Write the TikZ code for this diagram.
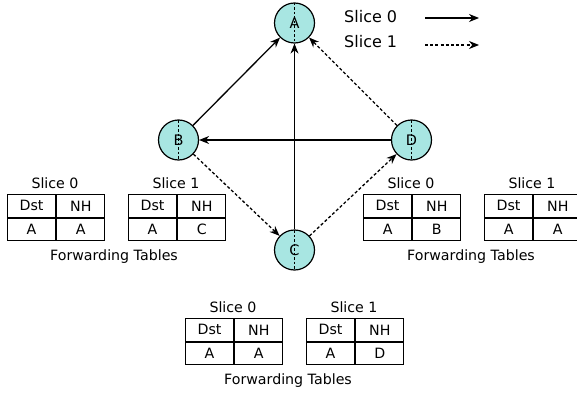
\documentclass[tikz,border=0pt]{standalone}
\usepackage{fontspec}
\setmainfont{DejaVu Sans}
\usetikzlibrary{arrows.meta}
\definecolor{nodefill}{RGB}{168,230,226}
\tikzset{
  router/.style={circle, draw=black, line width=1.2pt, fill=nodefill, minimum size=40pt, inner sep=0pt, font=\fontsize{14.5}{16}\selectfont,
    path picture={\draw[black, line width=0.9pt, dash pattern=on 2.5pt off 2pt] (path picture bounding box.north) -- (path picture bounding box.south);}},
  cell/.style={draw=black, line width=1.2pt, minimum width=48pt, minimum height=22.5pt, inner sep=0pt, font=\fontsize{14.2}{16}\selectfont},
  ttl/.style={font=\fontsize{14.2}{16}\selectfont, inner sep=0pt},
  lgd/.style={font=\fontsize{16}{18}\selectfont, inner sep=0pt, anchor=west},
  s0/.style={line width=1.3pt, -{Stealth[length=10pt,width=8pt]}},
  s1/.style={line width=1.3pt, dash pattern=on 3pt off 2.2pt, -{Stealth[length=10pt,width=8pt]}},
}
\newcommand{\ftable}[5]{% name, x-left, y-top, dst row value, nh value
  \node[cell, anchor=north west] (#1h1) at (#2,#3) {Dst};
  \node[cell, anchor=west] (#1h2) at (#1h1.east) {NH};
  \node[cell, anchor=north] (#1v1) at (#1h1.south) {#4};
  \node[cell, anchor=north] (#1v2) at (#1h2.south) {#5};
}
\begin{document}
\begin{tikzpicture}[x=1pt,y=-1pt]
\useasboundingbox (0,0) rectangle (577,393);
% routers
\node[router] (A) at (294.5,23) {A};
\node[router] (B) at (178.5,140) {B};
\node[router] (C) at (294.5,250) {C};
\node[router] (D) at (411.5,140) {D};
% edges
\draw[s0] (B) -- (A);
\draw[s0] (C) -- (A);
\draw[s0] (D) -- (B);
\draw[s1] (D) -- (A);
\draw[s1] (B) -- (C);
\draw[s1] (C) -- (D);
% legend
\node[lgd] (l0) at (344,17) {Slice 0};
\node[lgd] (l1) at (344,42) {Slice 1};
\coordinate (l0a) at (425,18);
\coordinate (l0b) at (479,18);
\coordinate (l1a) at (425,45);
\coordinate (l1b) at (479,45);
\draw[s0] (l0a) -- (l0b);
\draw[s1] (l1a) -- (l1b);
% left tables
\ftable{LA}{7}{194}{A}{A}
\ftable{LB}{128}{194}{A}{C}
\node[ttl] (tLA) at (55,183) {Slice 0};
\node[ttl] (tLB) at (176,183) {Slice 1};
\node[ttl] (fL) at (114,257) {Forwarding Tables};
% right tables
\ftable{RA}{363}{194}{A}{B}
\ftable{RB}{484}{194}{A}{A}
\node[ttl] (tRA) at (411,183) {Slice 0};
\node[ttl] (tRB) at (532,183) {Slice 1};
\node[ttl] (fR) at (471,257) {Forwarding Tables};
% bottom tables
\ftable{BA}{185}{318}{A}{A}
\ftable{BB}{306}{318}{A}{D}
\node[ttl] (tBA) at (233,307) {Slice 0};
\node[ttl] (tBB) at (354,307) {Slice 1};
\node[ttl] (fB) at (288,381) {Forwarding Tables};
\end{tikzpicture}
\end{document}
